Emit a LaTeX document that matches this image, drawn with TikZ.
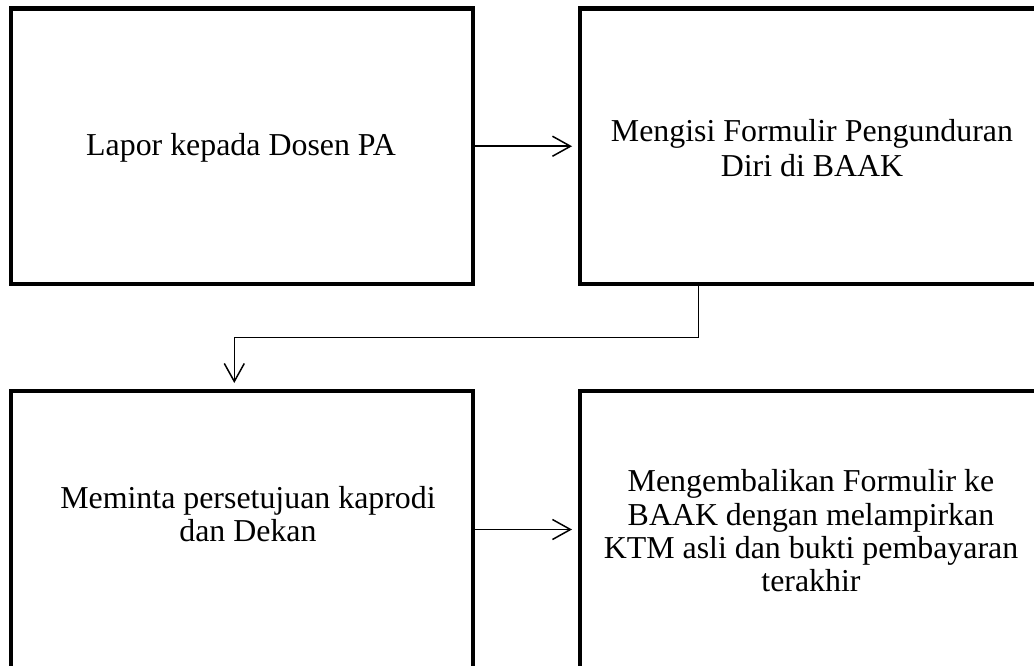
\documentclass[tikz,border=0pt]{standalone}
\usepackage{fontspec}
\setmainfont{Liberation Serif}
\usetikzlibrary{arrows.meta,calc}
\begin{document}
\begin{tikzpicture}[x=1bp,y=-1bp,
  box/.style={draw, line width=4.2bp, minimum width=462bp, minimum height=275.5bp, inner sep=0pt, outer sep=0pt},
  lowbox/.style={box, minimum height=277bp},
  txt/.style={align=center, font=\fontsize{32}{33.5}\selectfont, inner sep=0pt},
  conn/.style={line width=1.5bp, -{Straight Barb[length=18bp,width=20bp,line width=1.5bp]}}
]
\useasboundingbox (0,0) rectangle (1034,666);
\clip (0,0) rectangle (1034,666);
\node[box] (b1) at (242,146.25) {};
\node[box] (b2) at (811,146.25) {};
\node[lowbox] (b3) at (242,529.5) {};
\node[lowbox] (b4) at (811,529.5) {};
\node[txt] (t1) at (241,148) {Lapor kepada Dosen PA};
\node[txt, font=\fontsize{32}{35}\selectfont] (t2) at (812,148) {Mengisi Formulir Pengunduran\\Diri di BAAK};
\node[txt] (t3) at (248,514) {Meminta persetujuan kaprodi\\dan Dekan};
\node[txt] (t4) at (811,531) {Mengembalikan Formulir ke\\BAAK dengan melampirkan\\KTM asli dan bukti pembayaran\\terakhir};
\draw[conn, shorten <=2bp, shorten >=8bp] (b1.east) -- (b2.west);
\draw[conn, shorten <=2bp, shorten >=8bp] (b3.east) -- (b4.west);
\coordinate (e1) at ([xshift=-112.3bp]b2.south);
\coordinate (e2) at ([xshift=-7.7bp]b3.north);
\draw[conn, shorten <=2bp, shorten >=8bp] (e1) -- ++(0,53.7) -| (e2);
\end{tikzpicture}
\end{document}
